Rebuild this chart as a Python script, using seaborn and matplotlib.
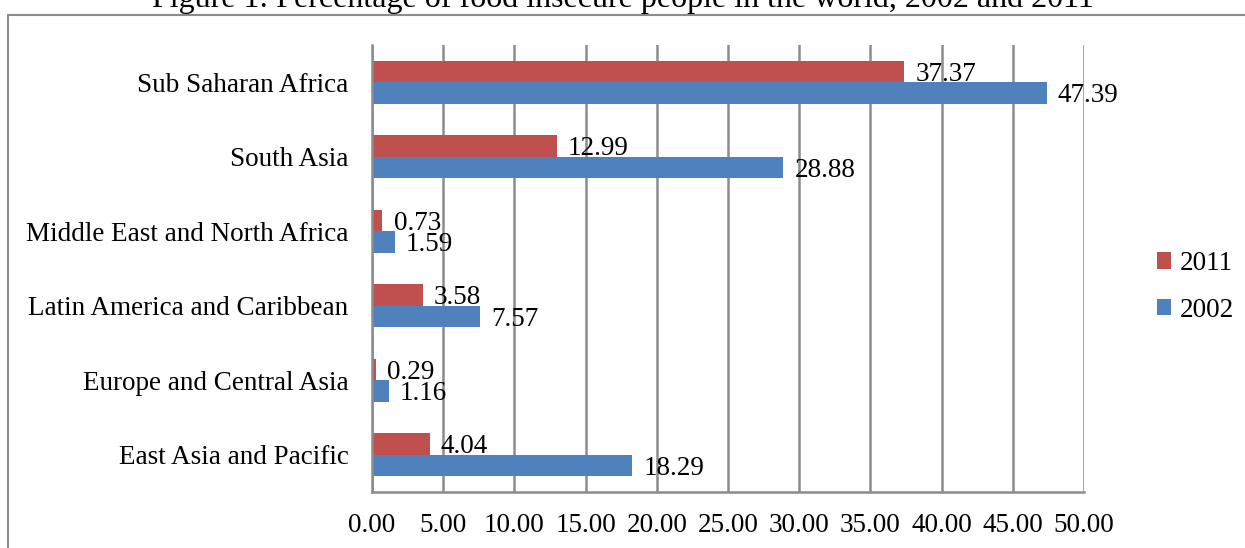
import numpy as np
import pandas as pd
import seaborn as sns
import matplotlib.pyplot as plt
from matplotlib.patches import Rectangle

regions = ["Sub Saharan Africa", "South Asia", "Middle East and North Africa",
           "Latin America and Caribbean", "Europe and Central Asia",
           "East Asia and Pacific"]
pct_2011 = [37.37, 12.99, 0.73, 3.58, 0.29, 4.04]
pct_2002 = [47.39, 28.88, 1.59, 7.57, 1.16, 18.29]
years = ["2011", "2002"]
colors = ["#C0504D", "#4F81BD"]
x_ticks = np.arange(0, 50.1, 5)

df = pd.DataFrame({
    "region": regions * 2,
    "year": ["2011"] * len(regions) + ["2002"] * len(regions),
    "value": pct_2011 + pct_2002,
})

sns.set_style("white")
plt.rcParams["font.family"] = ["Liberation Serif", "DejaVu Serif"]
plt.rcParams["text.color"] = "black"
plt.rcParams["xtick.labelcolor"] = "black"
plt.rcParams["ytick.labelcolor"] = "black"

fig = plt.figure(figsize=(12.45, 5.48), dpi=100)
ax = fig.add_axes([372 / 1245, 1 - 492 / 548, (1084 - 372) / 1245, (492 - 45) / 548])

sns.barplot(data=df, y="region", x="value", hue="year", hue_order=years,
            order=regions, palette=colors, orient="h", width=0.58,
            saturation=1, linewidth=0, ax=ax)

for cont in ax.containers:
    anns = ax.bar_label(cont, fmt="%.2f", fontsize=19.5, color="black")
    for a in anns:
        a.xyann = (8, -2)

ax.set_xlim(0, 50)
ax.set_ylim(len(regions) - 0.5, -0.5)
ax.set_xticks(x_ticks)
ax.set_xticklabels([f"{t:.2f}" for t in x_ticks], fontsize=19.5)
ax.set_yticks(range(len(regions)))
ax.set_yticklabels(regions, fontsize=19.5)
ax.set_yticks(np.arange(-0.5, len(regions)), minor=True)
ax.tick_params(axis="y", which="major", length=0, pad=17)
ax.tick_params(axis="y", which="minor", length=7, width=1.8, color="#8c8c8c")
ax.tick_params(axis="x", which="major", length=7, width=1.8, color="#8c8c8c", pad=8)
ax.set_xlabel("")
ax.set_ylabel("")
ax.set_axisbelow(True)
ax.xaxis.grid(True, color="#8c8c8c", lw=1.8)
for s in ["top", "right"]:
    ax.spines[s].set_visible(False)
for s in ["left", "bottom"]:
    ax.spines[s].set_color("#8c8c8c")
    ax.spines[s].set_linewidth(1.8)

ax.legend(loc="center left", bbox_to_anchor=(1143 / 1245, 1 - 287 / 548),
          bbox_transform=fig.transFigure, frameon=False, fontsize=19.5,
          handlelength=0.55, handleheight=0.55, handletextpad=0.3,
          labelspacing=0.8, borderpad=0)

fig.patches.append(Rectangle((8 / 1245, -0.1), 1.2, 0.1 + 1 - 15 / 548,
                             transform=fig.transFigure, fill=False,
                             edgecolor="#8c8c8c", lw=1.5))
fig.text(0.5, 1 - 7 / 548, "Figure 1: Percentage of food insecure people in the world, 2002 and 2011",
         ha="center", va="baseline", fontsize=23)

fig.savefig("out.png", dpi=100)
